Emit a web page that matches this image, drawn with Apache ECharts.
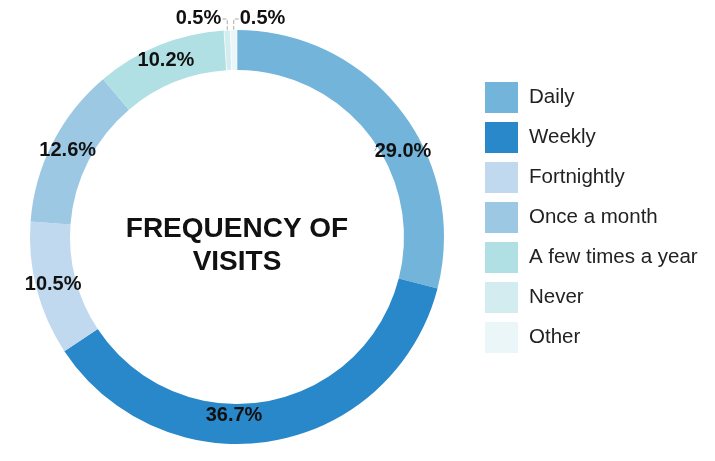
<!DOCTYPE html>
<html>
<head>
<meta charset="utf-8">
<script src="https://cdn.jsdelivr.net/npm/echarts@6/dist/echarts.min.js"></script>
<style>
  html, body { margin: 0; padding: 0; background: #fff; }
  #chart { width: 715px; height: 461px; }
</style>
</head>
<body>
<div id="chart"></div>
<script>
// data
const categories = ['Daily', 'Weekly', 'Fortnightly', 'Once a month', 'A few times a year', 'Never', 'Other']
const shares = [29.0, 36.7, 10.5, 12.6, 10.2, 0.5, 0.5]
const colors = ['#72b4da', '#2888c9', '#c0d9ee', '#9cc8e4', '#b0e0e3', '#d2ecef', '#eaf6f8']

const font = '"Liberation Sans", Arial, sans-serif'
const chart = echarts.init(document.getElementById('chart'))

const data = categories.map((name, i) => {
  const item = { name: name, value: shares[i], itemStyle: { color: colors[i] } }
  if (shares[i] < 2) {
    item.label = { position: 'outside' }
    item.labelLine = { show: true, length: 4, length2: 4, lineStyle: { color: '#aaa', type: 'dashed', width: 1 } }
    item.itemStyle.borderColor = '#fff'
    item.itemStyle.borderWidth = 0.6
  }
  return item
})

chart.setOption({
  animation: false,
  legend: {
    orient: 'vertical',
    left: 485,
    top: 82,
    padding: 0,
    icon: 'rect',
    itemWidth: 33,
    itemHeight: 31,
    itemGap: 9,
    itemStyle: { borderWidth: 0 },
    textStyle: { fontFamily: font, fontSize: 20.5, color: '#222', padding: [0, 0, 0, 6] },
    data: categories
  },
  graphic: [{
    type: 'text',
    x: 237,
    y: 213,
    style: {
      text: 'FREQUENCY OF\nVISITS',
      font: 'bold 28px ' + font,
      fill: '#111',
      align: 'center',
      lineHeight: 33
    }
  }],
  series: [{
    type: 'pie',
    center: [237, 237],
    radius: [167, 207],
    startAngle: 90,
    clockwise: true,
    avoidLabelOverlap: false,
    label: {
      show: true,
      position: 'inside',
      formatter: p => p.value.toFixed(1) + '%',
      fontFamily: font,
      fontWeight: 'bold',
      fontSize: 20,
      color: '#111'
    },
    labelLayout: function (p) {
      if (p.dataIndex === 0) return { x: 403, y: 151 }
      if (p.dataIndex === 1) return { x: 234, y: 415 }
      if (p.dataIndex === 5 || p.dataIndex === 6) {
        const pts = p.labelLinePoints
        const sx = pts ? pts[0][0] : 235
        const sy = pts ? pts[0][1] : 30
        const left = p.dataIndex === 5
        const ex = left ? sx - 5 : sx + 5
        return {
          x: left ? ex - 1 : ex + 1,
          y: 18,
          align: left ? 'right' : 'left',
          verticalAlign: 'middle',
          labelLinePoints: [[sx, sy], [sx, 19], [ex, 19]]
        }
      }
    },
    data: data
  }]
})
</script>
</body>
</html>
